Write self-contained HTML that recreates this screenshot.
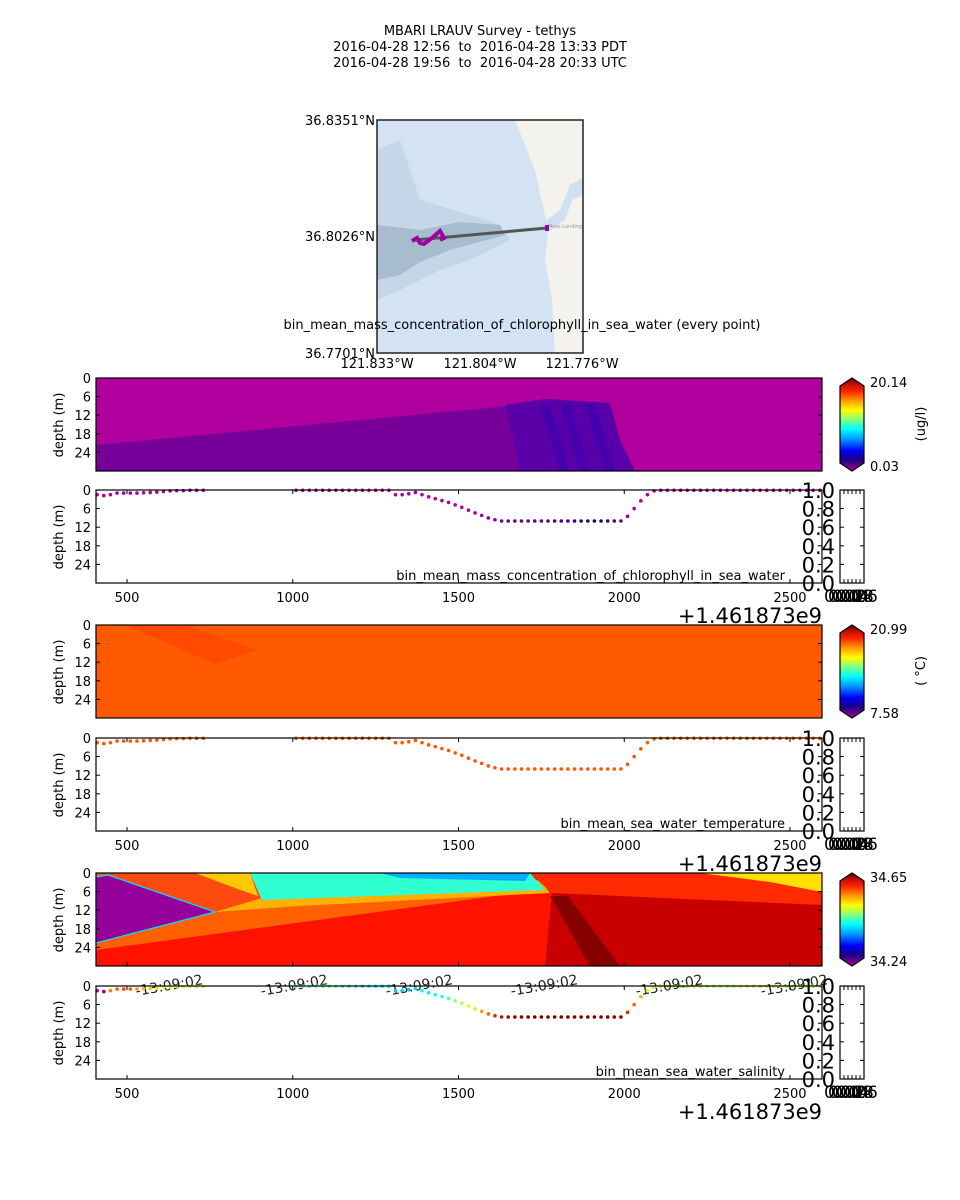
<!DOCTYPE html>
<html><head><meta charset="utf-8"><style>
body{margin:0;background:#fff}
svg{display:block;font-family:"DejaVu Sans","Liberation Sans",sans-serif}
</style></head><body>
<svg id="fig" width="960" height="1200" viewBox="0 0 960 1200">
<defs>
<linearGradient id="cmap" x1="0" y1="1" x2="0" y2="0">
<stop offset="0" stop-color="#b0009e"/><stop offset="0.12" stop-color="#1a0080"/><stop offset="0.22" stop-color="#0000ff"/><stop offset="0.35" stop-color="#00a0ff"/><stop offset="0.45" stop-color="#00ffff"/><stop offset="0.55" stop-color="#80ff80"/><stop offset="0.65" stop-color="#ffff00"/><stop offset="0.75" stop-color="#ffa000"/><stop offset="0.86" stop-color="#ff2000"/><stop offset="1" stop-color="#800000"/>
</linearGradient>
<clipPath id="mapclip"><rect x="377" y="120" width="206" height="233"/></clipPath>
</defs>
<g font-size="13" text-anchor="middle">
<text x="480" y="35">MBARI LRAUV Survey - tethys</text>
<text x="480" y="51">2016-04-28 12:56&#160;&#160;to&#160;&#160;2016-04-28 13:33 PDT</text>
<text x="480" y="67">2016-04-28 19:56&#160;&#160;to&#160;&#160;2016-04-28 20:33 UTC</text>
</g>
<g>
<g clip-path="url(#mapclip)">
<rect x="377" y="120" width="206" height="233" fill="#d3e3f3"/>
<path d="M377 150 L400 140 L420 200 L470 215 L500 225 L510 240 L470 260 L440 270 L400 290 L377 300Z" fill="#c4d6e8"/>
<path d="M377 225 L420 230 L460 222 L500 225 L505 235 L450 250 L420 262 L400 275 L377 280Z" fill="#a8bccf"/>
<path d="M515 120 L583 120 L583 353 L555 353 L552 300 L545 260 L548 235 L545 215 L535 170Z" fill="#f3f2ed"/>
<path d="M540 225 L560 210 L570 185 L583 178 L583 195 L572 200 L565 220 L548 232Z" fill="#cfe0f0"/>
<text x="548" y="228" font-size="5" fill="#999">Moss Landing</text>
</g>
<line x1="415" y1="240" x2="547" y2="228" stroke="#555" stroke-width="3"/>
<polyline points="412,241 417,238 420,243 424,244 432,238 440,231 444,238 440,240" fill="none" stroke="#a000a0" stroke-width="4"/>
<rect x="545" y="225" width="4" height="6" fill="#a000a0"/>
<rect x="377" y="120" width="206" height="233" fill="none" stroke="#222" stroke-width="1.5"/>
<g font-size="13" text-anchor="end"><text x="375" y="125">36.8351°N</text><text x="375" y="241">36.8026°N</text><text x="375" y="358">36.7701°N</text></g>
<g font-size="13" text-anchor="middle"><text x="377" y="368">121.833°W</text><text x="480" y="368">121.804°W</text><text x="582" y="368">121.776°W</text></g>
<text x="522" y="329" font-size="13" text-anchor="middle">bin_mean_mass_concentration_of_chlorophyll_in_sea_water (every point)</text>
</g>
<g id="panels"></g>
</svg>
<script>
// ---- data ----
const seg1Times=[410,430,450,470,490,510,530,550,570,590,610,630,650,670,690,710,730];
const seg1Depths=[1.5,1.8,1.5,1.0,1.0,1.0,1.0,0.9,0.8,0.7,0.5,0.3,0.2,0.2,0.1,0.1,0.1];
const seg2Times=[1010,1030,1050,1070,1090,1110,1130,1150,1170,1190,1210,1230,1250,1270,1290,1310,1330,1350,1370,1390,1410,1430,1450,1470,1490,1510,1530,1550,1570,1590,1610,1630,1650,1670,1690,1710,1730,1750,1770,1790,1810,1830,1850,1870,1890,1910,1930,1950,1970,1990,2010,2030,2050,2070,2090,2110,2130,2150,2170,2190,2210,2230,2250,2270,2290,2310,2330,2350,2370,2390,2410,2430,2450,2470,2490,2510,2530,2550,2570,2590];
const seg2Depths=[0.1,0.1,0.1,0.1,0.1,0.1,0.1,0.1,0.1,0.1,0.1,0.1,0.1,0.1,0.1,1.5,1.5,1.2,0.8,1.5,2.2,2.8,3.4,4.0,4.8,5.6,6.5,7.4,8.2,9.0,9.6,10,10,10,10,10,10,10,10,10,10,10,10,10,10,10,10,10,10,10,8.5,6,3.5,1.5,0.3,0.1,0.1,0.1,0.1,0.1,0.1,0.1,0.1,0.1,0.1,0.1,0.1,0.1,0.1,0.1,0.1,0.1,0.1,0.1,0.1,0.1,0.1,0.1,0.1,0.1];
const chlSeg1=[0.1,0.1,0.1,0.1,0.1,0.1,0.1,0.1,0.1,0.1,0.1,0.1,0.1,0.1,0.1,0.1,0.1];
const chlSeg2=[0.1,0.1,0.1,0.1,0.1,0.1,0.1,0.1,0.1,0.1,0.1,0.1,0.1,0.1,0.1,0.1,0.1,0.1,0.1,0.1,0.1,0.1,0.1,0.1,0.1,0.1,0.1,0.2,0.3,0.5,0.7,0.9,1.1,1.2,1.2,1.2,1.3,1.3,1.4,1.5,1.6,1.8,2.0,2.2,2.4,2.6,2.5,2.0,1.5,1.0,0.5,0.2,0.1,0.1,0.1,0.1,0.1,0.1,0.1,0.1,0.1,0.1,0.1,0.1,0.1,0.1,0.1,0.1,0.1,0.1,0.1,0.1,0.1,0.1,0.1,0.1,0.1,0.1,0.1,0.1];
const salSeg1=[34.24,34.25,34.56,34.57,34.58,34.57,34.55,34.54,34.53,34.52,34.51,34.50,34.49,34.49,34.48,34.48,34.48];
const salSeg2=[34.46,34.46,34.46,34.46,34.46,34.46,34.45,34.45,34.44,34.44,34.43,34.43,34.42,34.42,34.42,34.40,34.40,34.40,34.41,34.42,34.42,34.43,34.44,34.45,34.47,34.48,34.50,34.52,34.55,34.57,34.60,34.62,34.64,34.65,34.65,34.65,34.65,34.65,34.65,34.65,34.65,34.65,34.65,34.65,34.65,34.65,34.65,34.65,34.65,34.64,34.60,34.57,34.54,34.51,34.49,34.48,34.48,34.48,34.48,34.48,34.48,34.48,34.48,34.48,34.48,34.48,34.48,34.48,34.48,34.48,34.48,34.48,34.48,34.48,34.48,34.48,34.48,34.48,34.48,34.48];
const tempSeg1=[18.5,18.5,18.5,18.5,18.5,18.5,18.5,18.5,18.5,18.5,18.5,18.5,18.5,18.5,18.5,18.5,18.5];
const tempSeg2=seg2Times.map(()=>18.5);
const depthTicks=[0,6,12,18,24];
const timeTicks=[500,1000,1500,2000,2500];
const fracTicks=["1.0","0.8","0.6","0.4","0.2","0.0"];
// ---- helpers ----
const NS='http://www.w3.org/2000/svg';
const root=document.getElementById('panels');
function mk(tag,attrs,parent){const e=document.createElementNS(NS,tag);for(const k in attrs)e.setAttribute(k,attrs[k]);(parent||root).appendChild(e);return e;}
const X0=96,X1=822;
function xs(v){return 127+(v-500)*0.3315;}
const stops=[[0,[176,0,158]],[0.12,[26,0,128]],[0.22,[0,0,255]],[0.35,[0,160,255]],[0.45,[0,255,255]],[0.55,[128,255,128]],[0.65,[255,255,0]],[0.75,[255,160,0]],[0.86,[255,32,0]],[1,[128,0,0]]];
function cmap(f){f=Math.max(0,Math.min(1,f));for(let i=1;i<stops.length;i++){if(f<=stops[i][0]){const a=stops[i-1],b=stops[i];const t=(f-a[0])/(b[0]-a[0]);const c=a[1].map((v,j)=>Math.round(v+(b[1][j]-v)*t));return `rgb(${c})`;}}return 'rgb(128,0,0)';}
function depthAxis(top,g){
  const ys=d=>top+d*93/30;
  depthTicks.forEach(d=>{
    const t=mk('text',{x:91,y:ys(d)+5,'font-size':13,'text-anchor':'end'},g);t.textContent=d;
    
    
    mk('line',{x1:X0,x2:X0+4,y1:ys(d),y2:ys(d),stroke:'#000'},g);
    mk('line',{x1:X1-4,x2:X1,y1:ys(d),y2:ys(d),stroke:'#000'},g);
  });
  const l=mk('text',{x:0,y:0,'font-size':13,'text-anchor':'middle',transform:`translate(63,${top+47}) rotate(-90)`},g);l.textContent='depth (m)';
  
  
  return ys;
}
function frame(top,g){mk('rect',{x:X0,y:top,width:X1-X0,height:93,fill:'none',stroke:'#000','stroke-width':1.2},g);}
function colorbar(top,hi,lo,unit,g){
  mk('polygon',{points:`840,${top+8} 852,${top} 864,${top+8} 864,${top+85} 852,${top+93} 840,${top+85}`,fill:'url(#cmap)',stroke:'#000','stroke-width':1.2},g);
  const a=mk('text',{x:870,y:top+9,'font-size':13},g);a.textContent=hi;
  const b=mk('text',{x:870,y:top+93,'font-size':13},g);b.textContent=lo;
  if(unit){const u=mk('text',{x:0,y:0,'font-size':13,'text-anchor':'middle',transform:`translate(925,${top+46}) rotate(-90)`},g);u.textContent=unit;}
}
function scatterPanel(top,title,v1,v2,lo,hi,g){
  const ys=depthAxis(top,g);
  const draw=(T,D,V)=>T.forEach((t,i)=>{
    const c=mk('circle',{cx:xs(t),cy:ys(D[i]),r:1.8,fill:cmap((V[i]-lo)/(hi-lo))},g);
    
    
  });
  draw(seg1Times,seg1Depths,v1);draw(seg2Times,seg2Depths,v2);
  frame(top,g);
  timeTicks.forEach(t=>{
    mk('line',{x1:xs(t),x2:xs(t),y1:top+93,y2:top+89,stroke:'#000'},g);
    mk('line',{x1:xs(t),x2:xs(t),y1:top,y2:top+4,stroke:'#000'},g);
    const l=mk('text',{x:xs(t),y:top+112,'font-size':13,'text-anchor':'middle'},g);l.textContent=t;
    
    
  });
  const tt=mk('text',{x:785,y:top+90,'font-size':13,'text-anchor':'end'},g);tt.textContent=title;
  
  
  fracTicks.forEach((f,i)=>{const l=mk('text',{x:835,y:top+i*93/5+8,'font-size':21,'text-anchor':'end'},g);l.textContent=f;});
  mk('rect',{x:840,y:top,width:24,height:93,fill:'none',stroke:'#000','stroke-width':1.2},g);
  [844,848,852,856,860].forEach(x=>{mk('line',{x1:x,x2:x,y1:top,y2:top+4,stroke:'#000'},g);mk('line',{x1:x,x2:x,y1:top+93,y2:top+89,stroke:'#000'},g);});
  for(let i=1;i<5;i++){const y=top+i*93/5;mk('line',{x1:840,x2:844,y1:y,y2:y,stroke:'#000'},g);mk('line',{x1:860,x2:864,y1:y,y2:y,stroke:'#000'},g);}
  ['0.00','0.02','0.04','0.08','0.06'].forEach((s,i)=>{const l=mk('text',{x:824+i*4,y:top+112,'font-size':17},g);l.textContent=s;});
  const off=mk('text',{x:822,y:top+133,'font-size':21,'text-anchor':'end'},g);off.textContent='+1.461873e9';
  
  
}
// ---- chlorophyll contour ----
let g=mk('g',{});


mk('rect',{x:X0,y:378,width:726,height:93,fill:'#b0009e'},g);
mk('polygon',{points:'96,445 520,405 520,471 96,471',fill:'#78009a'},g);
mk('polygon',{points:'505,405 545,399 610,403 620,440 635,471 520,471',fill:'#5a00a8'},g);
[[540,405],[560,403],[585,404]].forEach(p=>mk('polygon',{points:`${p[0]},${p[1]} ${p[0]+10},${p[1]} ${p[0]+30},471 ${p[0]+20},471`,fill:'#3a00b0',opacity:0.6},g));
depthAxis(378,g);frame(378,g);
colorbar(378,'20.14','0.03','(ug/l)',g);
g=mk('g',{});


scatterPanel(490,'bin_mean_mass_concentration_of_chlorophyll_in_sea_water',chlSeg1,chlSeg2,0.03,20.14,g);
// ---- temperature ----
g=mk('g',{});


mk('rect',{x:X0,y:625,width:726,height:93,fill:'#ff5a00'},g);
mk('polygon',{points:'125,625 185,625 258,650 215,664 160,640',fill:'#ff4a00'},g);
depthAxis(625,g);frame(625,g);
colorbar(625,'20.99','7.58','( °C)',g);
g=mk('g',{});


scatterPanel(738,'bin_mean_sea_water_temperature',tempSeg1,tempSeg2,7.58,20.99,g);
// ---- salinity ----
g=mk('g',{});


mk('rect',{x:X0,y:873,width:726,height:93,fill:'#ff1200'},g);
mk('polygon',{points:'96,873 260,873 548,889 96,950',fill:'#ff6000'},g);
mk('polygon',{points:'96,873 250,873 262,898 215,912',fill:'#ff4a10'},g);
mk('polygon',{points:'195,873 250,873 258,896 235,888',fill:'#ffc800'},g);
mk('polygon',{points:'215,912 262,898 540,880 550,893 300,906',fill:'#ffb000'},g);
mk('polygon',{points:'250,873 530,873 545,890 262,900',fill:'#30ffd2'},g);
mk('polygon',{points:'380,873 530,873 525,881 400,878',fill:'#00b0ff'},g);
mk('polygon',{points:'530,873 822,873 822,966 545,966 552,893',fill:'#c80000'},g);
mk('polygon',{points:'530,873 822,873 822,905 552,893',fill:'#ff2a00'},g);
mk('polygon',{points:'700,873 822,873 822,892 770,882',fill:'#ffe000'},g);
mk('polygon',{points:'550,896 568,896 620,966 590,966',fill:'#7a0000',opacity:0.85},g);
mk('polygon',{points:'96,877 108,875 215,912 96,943',fill:'#96009a',stroke:'#00e0ff','stroke-width':1.2},g);
depthAxis(873,g);frame(873,g);
timeTicks.forEach(t=>{mk('line',{x1:xs(t),x2:xs(t),y1:966,y2:962,stroke:'#000'});});
colorbar(873,'34.65','34.24','',g);
[170,295,420,545,670,795].forEach(x=>{const l=mk('text',{x:0,y:0,'font-size':14,'text-anchor':'middle',transform:`translate(${x},990) rotate(-10)`,fill:'#222'},g);l.textContent='-13:09:02';});
g=mk('g',{});


scatterPanel(986,'bin_mean_sea_water_salinity',salSeg1,salSeg2,34.24,34.65,g);
</script>
</body></html>
